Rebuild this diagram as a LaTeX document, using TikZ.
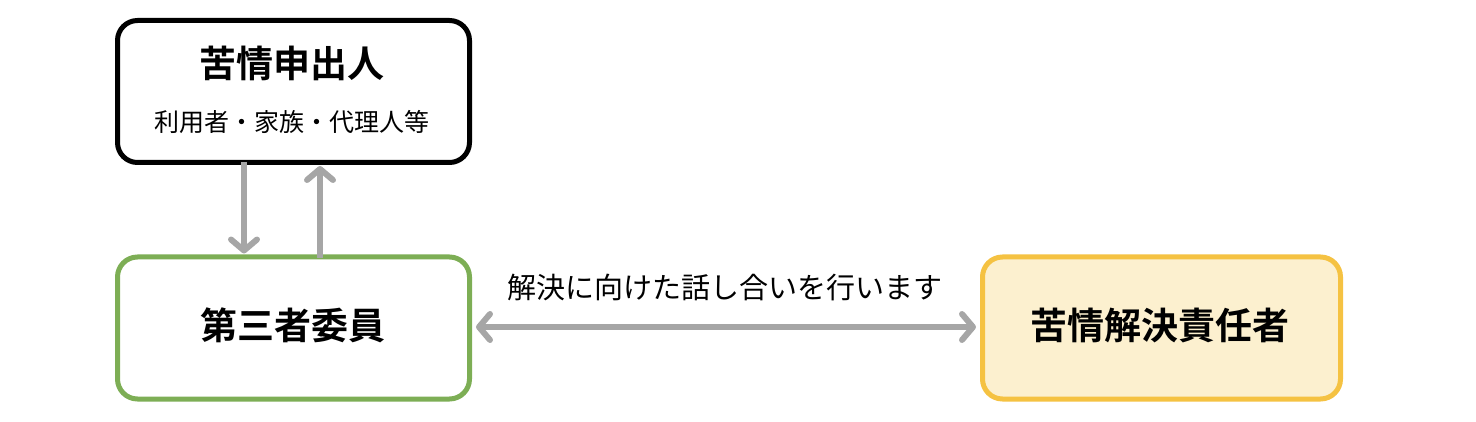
\documentclass[tikz,border=0pt]{standalone}
\usepackage{fontspec}
\newfontfamily\jp{Noto Sans CJK JP}[BoldFont={Noto Sans CJK JP Bold}]
\usetikzlibrary{arrows.meta}
\definecolor{bxgreen}{HTML}{7DAE55}
\definecolor{bxyellow}{HTML}{F5C242}
\definecolor{bxfill}{HTML}{FCF0CF}
\definecolor{arrgray}{HTML}{A6A6A6}
\begin{document}
\begin{tikzpicture}[x=1pt,y=-1pt,
  box/.style={draw, line width=5pt, rounded corners=20pt, inner sep=0pt},
  arr/.style={draw=arrgray, line width=6pt,
    -{Straight Barb[length=11pt,width=26pt,line cap=round,line join=round]}},
  darr/.style={draw=arrgray, line width=6pt,
    {Straight Barb[length=11pt,width=26pt,line cap=round,line join=round]}-{Straight Barb[length=11pt,width=26pt,line cap=round,line join=round]}},
  title/.style={font=\jp\bfseries\fontsize{37}{40}\selectfont, inner sep=0pt},
  sub/.style={font=\jp\fontsize{25}{28}\selectfont, inner sep=0pt},
  lbl/.style={font=\jp\fontsize{29}{32}\selectfont, inner sep=0pt}]
\useasboundingbox (0,0) rectangle (1476,422);
\node[box, draw=black, minimum width=352pt, minimum height=142pt] (b1) at (293.5,91.5) {};
\node[title] (t1) at (292,63) {苦情申出人};
\node[sub] (s1) at (292,122) {利用者・家族・代理人等};
\node[box, draw=bxgreen, minimum width=352pt, minimum height=142pt] (b2) at (293.5,328) {};
\node[title] (t2) at (292.5,325) {第三者委員};
\node[box, draw=bxyellow, fill=bxfill, minimum width=358pt, minimum height=142pt] (b3) at (1161.5,328) {};
\node[title] (t3) at (1160,325) {苦情解決責任者};
\coordinate (xd) at (244,0);
\coordinate (xu) at (320,0);
\draw[arr] ([yshift=3pt]b1.south -| xd) -- ([yshift=1pt]b2.north -| xd);
\draw[arr] ([yshift=-4pt]b2.north -| xu) -- ([yshift=-1pt]b1.south -| xu);
\draw[darr] ([xshift=4pt,yshift=1pt]b2.east) -- ([xshift=-4pt,yshift=1pt]b3.west);
\node[lbl] (l1) at (725,287) {解決に向けた話し合いを行います};
\end{tikzpicture}
\end{document}
